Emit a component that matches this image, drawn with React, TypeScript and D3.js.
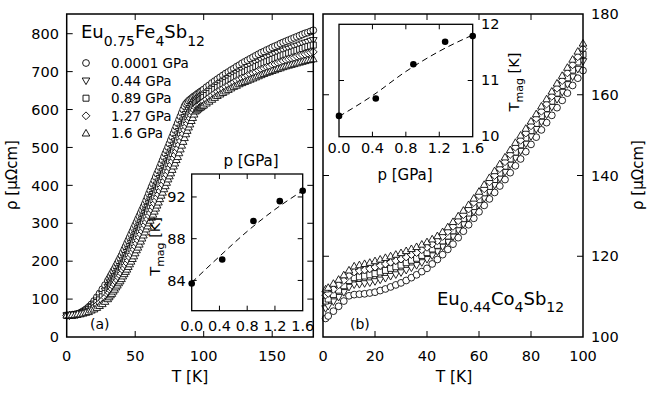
import React from 'react';
import * as d3 from 'd3';

// ---------- Panel (a): Eu0.75Fe4Sb12, resistivity vs temperature ----------
// sampled every 2 K, and every 1 K through the steep rise below the ordering transition
const tempsA = [0,2,4,6,8,10,12,14,16,18,20,22,24,26,28,
  30,31,32,33,34,35,36,37,38,39,40,41,42,43,44,45,46,47,48,49,50,51,52,53,54,55,56,57,58,59,60,61,62,63,64,65,66,67,68,69,70,71,72,73,74,75,76,77,78,79,80,81,82,83,84,85,86,87,88,89,90,91,92,93,94,95,96,97,98,99,
  100,102,104,106,108,110,112,114,116,118,120,122,124,126,128,130,132,134,136,138,140,142,144,146,148,150,152,154,156,158,160,162,164,166,168,170,172,174,176,178,180];
const rhoA_p0 = [57,57,58,59,61,64,68,73,79,86,95,105,115,126,137,
  148,154,161,167,174,180,187,194,201,208,215,223,231,239,247,255,263,271,279,287,295,303,311,319,327,335,343,351,360,369,378,387,396,404,413,422,431,439,448,457,466,475,484,492,501,510,519,528,537,546,555,564,573,582,591,600,609,615,619,623,626,629,632,635,637,640,643,645,648,650,
  653,659,664,670,675,680,685,690,695,699,704,708,713,717,722,726,730,734,738,742,746,750,753,757,760,764,767,770,774,777,780,783,786,789,792,795,798,801,803,806,809];
const rhoA_p044 = [57,57,58,59,61,63,66,70,75,81,88,96,104,113,122,
  132,137,144,149,156,161,168,174,181,187,194,202,209,216,224,231,239,247,254,262,270,278,286,294,302,310,318,326,334,343,352,360,369,377,385,394,402,410,419,428,437,446,455,463,472,481,489,498,507,516,525,534,543,552,562,571,580,588,594,599,604,609,614,619,623,626,629,631,634,636,
  639,644,649,655,660,665,670,674,679,683,688,692,696,700,704,708,712,715,719,723,726,730,733,737,739,743,746,749,752,755,758,760,763,766,768,771,774,776,778,781,783];
const rhoA_p089 = [57,57,58,58,60,62,65,68,72,78,84,91,98,106,115,
  124,129,135,140,146,152,158,164,171,177,183,191,198,205,212,219,227,234,242,249,257,265,273,281,289,297,305,313,321,330,338,346,355,363,371,380,388,396,405,414,423,432,440,449,458,466,475,484,493,501,510,519,528,538,547,557,566,574,581,587,593,599,605,611,616,619,622,624,627,629,
  632,637,642,648,653,658,662,667,671,675,680,684,688,692,696,699,703,706,709,713,716,720,723,726,729,732,735,738,741,744,746,749,751,754,756,759,761,764,766,768,770];
const rhoA_p127 = [57,57,58,58,60,61,64,66,69,74,79,84,90,97,104,
  112,117,123,127,133,139,145,150,157,162,168,176,182,189,195,202,210,217,224,231,239,247,255,263,271,279,287,295,303,311,320,327,335,343,352,360,368,376,385,394,402,411,420,428,437,446,454,463,472,480,489,497,507,517,527,536,546,555,563,571,577,585,592,599,606,609,612,614,617,619,
  621,627,632,637,642,647,651,655,660,664,668,672,676,680,683,686,690,693,696,699,703,706,709,712,714,718,720,723,725,728,731,733,735,737,740,742,744,746,748,750,752];
const rhoA_p16 = [57,57,58,58,60,60,62,64,66,70,73,77,82,87,93,
  100,105,110,114,120,125,131,136,142,147,153,160,166,172,178,185,192,199,206,213,221,229,236,244,252,260,268,276,284,292,300,307,315,323,331,339,347,355,364,373,381,390,398,407,416,424,432,441,450,458,467,475,485,495,505,515,525,535,544,553,561,570,578,587,595,598,601,604,606,609,
  611,616,621,626,631,636,640,644,648,652,656,660,663,667,670,673,676,679,682,685,688,691,694,697,699,702,704,707,709,712,714,716,718,720,722,724,726,728,730,731,733];

// ---------- Panel (b): Eu0.44Co4Sb12, resistivity vs temperature ----------
const tempsB = [1,2,4,6,8,10,12,14,16,18,20,22,24,26,28,30,32,34,36,38,40,42,44,46,48,50,52,54,56,58,60,62,64,66,68,70,72,74,76,78,80,82,84,86,88,90,92,94,96,98,100];
const rhoB_p0 = [104.6,105.2,106.4,107.6,108.9,110.2,110.5,110.6,110.7,110.9,111.1,111.5,111.9,112.4,112.9,113.4,114.0,114.7,115.4,116.2,117.0,118.1,119.2,120.4,121.7,123.0,124.6,126.2,127.8,129.4,131.0,132.6,134.2,135.8,137.4,139.0,140.7,142.4,144.1,145.9,147.7,149.5,151.3,153.1,154.9,156.8,158.6,160.4,162.3,164.1,166.0];
const rhoB_p044 = [107.1,107.7,108.8,109.9,111.1,112.4,113.0,113.1,113.3,113.5,113.8,114.2,114.6,115.1,115.5,116.0,116.6,117.2,117.8,118.5,119.3,120.2,121.2,122.4,123.6,124.9,126.5,128.0,129.5,131.1,132.8,134.4,136.0,137.7,139.3,140.9,142.7,144.4,146.1,147.9,149.7,151.5,153.3,155.1,157.0,158.9,160.7,162.6,164.5,166.4,168.3];
const rhoB_p089 = [108.9,109.4,110.5,111.6,112.7,114.0,114.7,114.9,115.1,115.4,115.7,116.1,116.5,117.0,117.4,117.8,118.4,119.0,119.5,120.2,120.9,121.8,122.7,123.8,125.0,126.3,127.8,129.3,130.7,132.3,134.0,135.7,137.3,139.0,140.6,142.3,144.1,145.8,147.6,149.3,151.1,152.9,154.8,156.6,158.4,160.4,162.3,164.2,166.1,168.1,170.0];
const rhoB_p127 = [110.4,110.8,111.8,112.9,114.0,115.2,116.1,116.4,116.6,116.9,117.3,117.7,118.1,118.5,118.9,119.3,119.8,120.4,120.9,121.6,122.2,123.0,123.8,124.9,126.1,127.4,128.8,130.3,131.7,133.3,135.0,136.7,138.4,140.0,141.7,143.4,145.2,147.0,148.7,150.5,152.3,154.1,155.9,157.7,159.6,161.6,163.5,165.4,167.4,169.4,171.4];
const rhoB_p16 = [111.8,112.2,113.2,114.2,115.3,116.5,117.5,117.8,118.1,118.4,118.8,119.2,119.6,120.0,120.4,120.8,121.3,121.8,122.3,122.9,123.5,124.2,125.0,126.0,127.2,128.5,129.9,131.3,132.7,134.3,136.0,137.7,139.4,141.1,142.8,144.5,146.3,148.1,149.9,151.6,153.4,155.2,157.1,158.9,160.8,162.8,164.7,166.7,168.7,170.7,172.7];

// ---------- Insets: ordering temperature vs pressure ----------
const pressures = [0.0001, 0.44, 0.89, 1.27, 1.6];
const pressureLabels = ['0.0001 GPa', '0.44 GPa', '0.89 GPa', '1.27 GPa', '1.6 GPa'];
const tmagA = [83.7, 86.0, 89.7, 91.6, 92.6];
const tmagB = [10.37, 10.68, 11.29, 11.69, 11.79];
const fitP = [0, 0.4, 0.8, 1.2, 1.6];
const fitTmagA = [83.8, 86.3, 88.7, 90.8, 92.6];
const fitTmagB = [10.36, 10.73, 11.16, 11.52, 11.81];

// ---------- Axis ticks ----------
const ticksTA = [0, 50, 100, 150];
const ticksRhoA = [0, 100, 200, 300, 400, 500, 600, 700, 800];
const ticksTB = [0, 20, 40, 60, 80, 100];
const ticksRhoB = [100, 120, 140, 160, 180];
const ticksP = [0, 0.4, 0.8, 1.2, 1.6];
const ticksTmagA = [84, 88, 92];
const ticksTmagB = [10, 11, 12];

type Sym = 'circle' | 'triDown' | 'square' | 'diamond' | 'triUp';
const symbols: Sym[] = ['circle', 'triDown', 'square', 'diamond', 'triUp'];

function symbolPath(s: Sym): string {
  switch (s) {
    case 'circle': {
      const r = 3.4;
      return `M${-r},0a${r},${r} 0 1,0 ${2 * r},0a${r},${r} 0 1,0 ${-2 * r},0Z`;
    }
    case 'square': {
      const h = 3.0;
      return `M${-h},${-h}H${h}V${h}H${-h}Z`;
    }
    case 'diamond': {
      const h = 3.9;
      return `M0,${-h}L${h},0L0,${h}L${-h},0Z`;
    }
    case 'triUp':
      return 'M0,-4L3.8,2.6L-3.8,2.6Z';
    case 'triDown':
      return 'M0,4L3.8,-2.6L-3.8,-2.6Z';
  }
}

const FONT = 'DejaVu Sans';

function Marker({ x, y, s, sw = 0.85 }: { x: number; y: number; s: Sym; sw?: number }) {
  return (
    <path d={symbolPath(s)} transform={`translate(${x},${y})`} fill="#fff" stroke="#000" strokeWidth={sw} />
  );
}

export default function App() {
  // main panels
  const xA = d3.scaleLinear().domain([0, 180]).range([66.7, 313.3]);
  const yA = d3.scaleLinear().domain([0, 852]).range([337, 14]);
  const xB = d3.scaleLinear().domain([0, 100]).range([323, 583]);
  const yB = d3.scaleLinear().domain([100, 180]).range([337, 14]);
  // insets
  const pxA = d3.scaleLinear().domain([0, 1.6]).range([191.7, 302.7]);
  const pyA = d3.scaleLinear().domain([81.1, 94.2]).range([310.7, 174]);
  const pxB = d3.scaleLinear().domain([0, 1.6]).range([339, 472.7]);
  const pyB = d3.scaleLinear().domain([10, 12]).range([136.7, 24.3]);

  const seriesA = [rhoA_p0, rhoA_p044, rhoA_p089, rhoA_p127, rhoA_p16];
  const seriesB = [rhoB_p0, rhoB_p044, rhoB_p089, rhoB_p127, rhoB_p16];

  const fitLineA = d3
    .line<number>()
    .x((_, i) => pxA(fitP[i]))
    .y((v) => pyA(v))
    .curve(d3.curveMonotoneX);
  const fitLineB = d3
    .line<number>()
    .x((_, i) => pxB(fitP[i]))
    .y((v) => pyB(v))
    .curve(d3.curveMonotoneX);

  const tick = 6;
  const itick = 5;
  const tickFont = 14.5;

  const [ax0, ax1] = xA.range();
  const [ay0, ay1] = yA.range();
  const [bx0, bx1] = xB.range();
  const [by0, by1] = yB.range();
  const [iax0, iax1] = pxA.range();
  const [iay0, iay1] = pyA.range();
  const [ibx0, ibx1] = pxB.range();
  const [iby0, iby1] = pyB.range();

  return (
    <svg
      width={647}
      height={393}
      viewBox="0 0 647 393"
      style={{ position: 'absolute', left: 0, top: 0, background: '#fff' }}
      fontFamily={FONT}
    >
      <rect x={0} y={0} width={647} height={393} fill="#fff" />

      {/* ===== Panel (a) ===== */}
      <g>
        {seriesA.map((rho, si) => (
          <g key={si}>
            {rho.map((v, i) => (
              <Marker key={i} x={xA(tempsA[i])} y={yA(v)} s={symbols[si]} />
            ))}
          </g>
        ))}

        {/* inset (a) */}
        <rect x={iax0} y={iay1} width={iax1 - iax0} height={iay0 - iay1} fill="#fff" stroke="#000" strokeWidth={1.3} />
        {ticksP.slice(1, -1).map((p) => (
          <g key={p}>
            <line x1={pxA(p)} x2={pxA(p)} y1={iay0} y2={iay0 - itick} stroke="#000" strokeWidth={1} />
            <line x1={pxA(p)} x2={pxA(p)} y1={iay1} y2={iay1 + itick} stroke="#000" strokeWidth={1} />
          </g>
        ))}
        {ticksTmagA.map((t) => (
          <g key={t}>
            <line x1={iax0} x2={iax0 + itick} y1={pyA(t)} y2={pyA(t)} stroke="#000" strokeWidth={1} />
            <line x1={iax1} x2={iax1 - itick} y1={pyA(t)} y2={pyA(t)} stroke="#000" strokeWidth={1} />
          </g>
        ))}
        <path d={fitLineA(fitTmagA) || ''} fill="none" stroke="#000" strokeWidth={1} strokeDasharray="6 4" />
        {tmagA.map((t, i) => (
          <circle key={i} cx={pxA(pressures[i])} cy={pyA(t)} r={3.3} fill="#000" />
        ))}
        {ticksP.map((p) => (
          <text key={p} x={pxA(p)} y={331} fontSize={tickFont} textAnchor="middle">
            {p.toFixed(1)}
          </text>
        ))}
        {ticksTmagA.map((t) => (
          <text key={t} x={iax0 - 6} y={pyA(t)} dy="0.36em" fontSize={tickFont} textAnchor="end">
            {t}
          </text>
        ))}
        <text x={251} y={166} fontSize={15} textAnchor="middle">p [GPa]</text>
        <text transform={`translate(160,${(iay0 + iay1) / 2 + 4}) rotate(-90)`} fontSize={14.5} textAnchor="middle">
          T<tspan fontSize={11} dy={4}>mag</tspan>
          <tspan dy={-4}> [K]</tspan>
        </text>

        {/* frame (a) */}
        <rect x={ax0} y={ay1} width={ax1 - ax0} height={ay0 - ay1} fill="none" stroke="#000" strokeWidth={1.5} />
        {ticksTA.slice(1).map((t) => (
          <g key={t}>
            <line x1={xA(t)} x2={xA(t)} y1={ay0} y2={ay0 - tick} stroke="#000" strokeWidth={1} />
            <line x1={xA(t)} x2={xA(t)} y1={ay1} y2={ay1 + tick} stroke="#000" strokeWidth={1} />
          </g>
        ))}
        {ticksRhoA.slice(1).map((r) => (
          <g key={r}>
            <line x1={ax0} x2={ax0 + tick} y1={yA(r)} y2={yA(r)} stroke="#000" strokeWidth={1} />
            <line x1={ax1} x2={ax1 - tick} y1={yA(r)} y2={yA(r)} stroke="#000" strokeWidth={1} />
          </g>
        ))}
        {ticksTA.map((t) => (
          <text key={t} x={xA(t)} y={360.5} fontSize={tickFont} textAnchor="middle">
            {t}
          </text>
        ))}
        {ticksRhoA.map((r) => (
          <text key={r} x={59} y={yA(r)} dy="0.36em" fontSize={tickFont} textAnchor="end">
            {r}
          </text>
        ))}
        <text x={190} y={382} fontSize={15.5} textAnchor="middle">T [K]</text>
        <text transform="translate(17,175) rotate(-90)" fontSize={15} textAnchor="middle">ρ [μΩcm]</text>

        {/* compound label and legend */}
        <text x={81} y={38.3} fontSize={18}>
          Eu<tspan fontSize={14} dy={7.4}>0.75</tspan>
          <tspan dy={-7.4}>Fe</tspan>
          <tspan fontSize={14} dy={7.4}>4</tspan>
          <tspan dy={-7.4}>Sb</tspan>
          <tspan fontSize={14} dy={7.4}>12</tspan>
        </text>
        {pressureLabels.map((lab, i) => {
          const cy = 63 + i * 17.6;
          return (
            <g key={lab}>
              <Marker x={86} y={cy} s={symbols[i]} sw={0.9} />
              <text x={111} y={cy + 5} fontSize={13.5}>{lab}</text>
            </g>
          );
        })}
        <text x={90} y={329} fontSize={14}>(a)</text>
      </g>

      {/* ===== Panel (b) ===== */}
      <g>
        {seriesB.map((rho, si) => (
          <g key={si}>
            {rho.map((v, i) => (
              <Marker key={i} x={xB(tempsB[i])} y={yB(v)} s={symbols[si]} />
            ))}
          </g>
        ))}

        {/* inset (b) */}
        <rect x={ibx0} y={iby1} width={ibx1 - ibx0} height={iby0 - iby1} fill="#fff" stroke="#000" strokeWidth={1.3} />
        {ticksP.slice(1, -1).map((p) => (
          <g key={p}>
            <line x1={pxB(p)} x2={pxB(p)} y1={iby0} y2={iby0 - itick} stroke="#000" strokeWidth={1} />
            <line x1={pxB(p)} x2={pxB(p)} y1={iby1} y2={iby1 + itick} stroke="#000" strokeWidth={1} />
          </g>
        ))}
        {ticksTmagB.slice(1, -1).map((t) => (
          <g key={t}>
            <line x1={ibx0} x2={ibx0 + itick} y1={pyB(t)} y2={pyB(t)} stroke="#000" strokeWidth={1} />
            <line x1={ibx1} x2={ibx1 - itick} y1={pyB(t)} y2={pyB(t)} stroke="#000" strokeWidth={1} />
          </g>
        ))}
        <path d={fitLineB(fitTmagB) || ''} fill="none" stroke="#000" strokeWidth={1} strokeDasharray="6 4" />
        {tmagB.map((t, i) => (
          <circle key={i} cx={pxB(pressures[i])} cy={pyB(t)} r={3.3} fill="#000" />
        ))}
        {ticksP.map((p) => (
          <text key={p} x={pxB(p)} y={152.5} fontSize={tickFont} textAnchor="middle">
            {p.toFixed(1)}
          </text>
        ))}
        {ticksTmagB.map((t) => (
          <text key={t} x={481} y={pyB(t)} dy="0.3em" fontSize={tickFont} textAnchor="start">
            {t}
          </text>
        ))}
        <text x={405} y={180} fontSize={15} textAnchor="middle">p [GPa]</text>
        <text transform="translate(519,82) rotate(-90)" fontSize={14.5} textAnchor="middle">
          T<tspan fontSize={11} dy={4}>mag</tspan>
          <tspan dy={-4}> [K]</tspan>
        </text>

        {/* frame (b) */}
        <rect x={bx0} y={by1} width={bx1 - bx0} height={by0 - by1} fill="none" stroke="#000" strokeWidth={1.5} />
        {ticksTB.slice(1, -1).map((t) => (
          <g key={t}>
            <line x1={xB(t)} x2={xB(t)} y1={by0} y2={by0 - tick} stroke="#000" strokeWidth={1} />
            <line x1={xB(t)} x2={xB(t)} y1={by1} y2={by1 + tick} stroke="#000" strokeWidth={1} />
          </g>
        ))}
        {ticksRhoB.slice(1, -1).map((r) => (
          <g key={r}>
            <line x1={bx0} x2={bx0 + tick} y1={yB(r)} y2={yB(r)} stroke="#000" strokeWidth={1} />
            <line x1={bx1} x2={bx1 - tick} y1={yB(r)} y2={yB(r)} stroke="#000" strokeWidth={1} />
          </g>
        ))}
        {ticksTB.map((t) => (
          <text key={t} x={xB(t)} y={360.5} fontSize={tickFont} textAnchor="middle">
            {t}
          </text>
        ))}
        {ticksRhoB.map((r) => (
          <text key={r} x={591} y={yB(r)} dy="0.36em" fontSize={tickFont} textAnchor="start">
            {r}
          </text>
        ))}
        <text x={454} y={382} fontSize={15.5} textAnchor="middle">T [K]</text>
        <text transform="translate(643,175) rotate(-90)" fontSize={15} textAnchor="middle">ρ [μΩcm]</text>

        <text x={437} y={305} fontSize={18}>
          Eu<tspan fontSize={14} dy={7.4}>0.44</tspan>
          <tspan dy={-7.4}>Co</tspan>
          <tspan fontSize={14} dy={7.4}>4</tspan>
          <tspan dy={-7.4}>Sb</tspan>
          <tspan fontSize={14} dy={7.4}>12</tspan>
        </text>
        <text x={350} y={329} fontSize={14}>(b)</text>
      </g>
    </svg>
  );
}
